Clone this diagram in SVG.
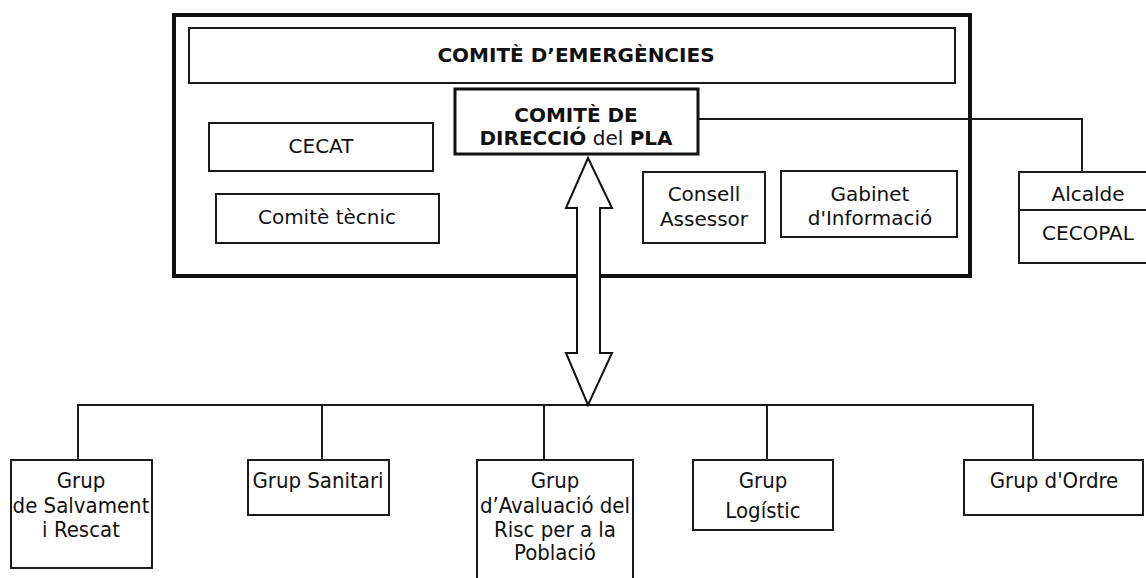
<svg xmlns="http://www.w3.org/2000/svg" width="1146" height="578" viewBox="0 0 1146 578">
<style>
.b{fill:#fff;stroke:#1a1a1a;stroke-width:2}
.t{font-family:"DejaVu Sans",Verdana,sans-serif;font-size:20px;fill:#111;text-anchor:middle}
.g{font-family:"DejaVu Sans Condensed","DejaVu Sans",sans-serif;font-stretch:condensed;font-size:22px}
.bd{font-weight:bold}
.c{fill:none;stroke:#1a1a1a;stroke-width:2}
</style>
<rect width="1146" height="578" fill="#fff"/>
<g id="comite-emergencies">
<rect x="174" y="15" width="796" height="261" fill="#fff" stroke="#111" stroke-width="4"/>
<rect class="b" x="189" y="28" width="766" height="55"/>
<text class="t bd" x="576" y="62" font-size="22">COMITÈ D’EMERGÈNCIES</text>
</g>
<g id="cecat"><rect class="b" x="209" y="123" width="224" height="48"/><text class="t" x="321" y="153">CECAT</text></g>
<g id="comite-tecnic"><rect class="b" x="216" y="194" width="223" height="49"/><text class="t" x="327" y="224">Comitè tècnic</text></g>
<g id="consell"><rect class="b" x="643" y="172" width="122" height="71"/><text class="t" x="704" y="201">Consell</text><text class="t" x="704" y="226">Assessor</text></g>
<g id="gabinet"><rect class="b" x="781" y="171" width="176" height="66"/><text class="t" x="870" y="201">Gabinet</text><text class="t" x="870" y="225">d'Informació</text></g>
<g id="connectors">
<path class="c" d="M698 119H1082V172"/>
<path class="c" d="M78 460V405H1033V460M322 405V460M544 405V460M767 405V460"/>
<path d="M588 158L612 208H600V353H612L588 405L566 353H577V208H566Z" fill="#fff" stroke="#111" stroke-width="2"/>
</g>
<g id="direccio"><rect x="455" y="89" width="243" height="65" fill="#fff" stroke="#111" stroke-width="3"/>
<text class="t bd" x="576" y="122" font-size="21">COMITÈ DE</text>
<text class="t" x="576" y="145" font-size="21"><tspan font-weight="bold">DIRECCIÓ</tspan> del <tspan font-weight="bold">PLA</tspan></text></g>
<g id="alcalde"><rect class="b" x="1019" y="172" width="132" height="91"/><line class="c" x1="1019" y1="210" x2="1146" y2="210"/><text class="t" x="1088" y="201">Alcalde</text><text class="t" x="1088" y="240">CECOPAL</text></g>
<g id="salvament"><rect class="b" x="11" y="460" width="141" height="108"/><text class="t g" x="81" y="488">Grup</text><text class="t g" x="81" y="513">de Salvament</text><text class="t g" x="81" y="537">i Rescat</text></g>
<g id="sanitari"><rect class="b" x="248" y="460" width="141" height="55"/><text class="t g" x="318" y="488">Grup Sanitari</text></g>
<g id="avaluacio"><rect class="b" x="477" y="460" width="156" height="125"/><text class="t g" x="555" y="488">Grup</text><text class="t g" x="555" y="513">d’Avaluació del</text><text class="t g" x="555" y="537">Risc per a la</text><text class="t g" x="555" y="560">Població</text></g>
<g id="logistic"><rect class="b" x="693" y="460" width="140" height="70"/><text class="t g" x="763" y="488">Grup</text><text class="t g" x="763" y="518">Logístic</text></g>
<g id="ordre"><rect class="b" x="964" y="460" width="179" height="55"/><text class="t g" x="1054" y="488">Grup d'Ordre</text></g>
</svg>
